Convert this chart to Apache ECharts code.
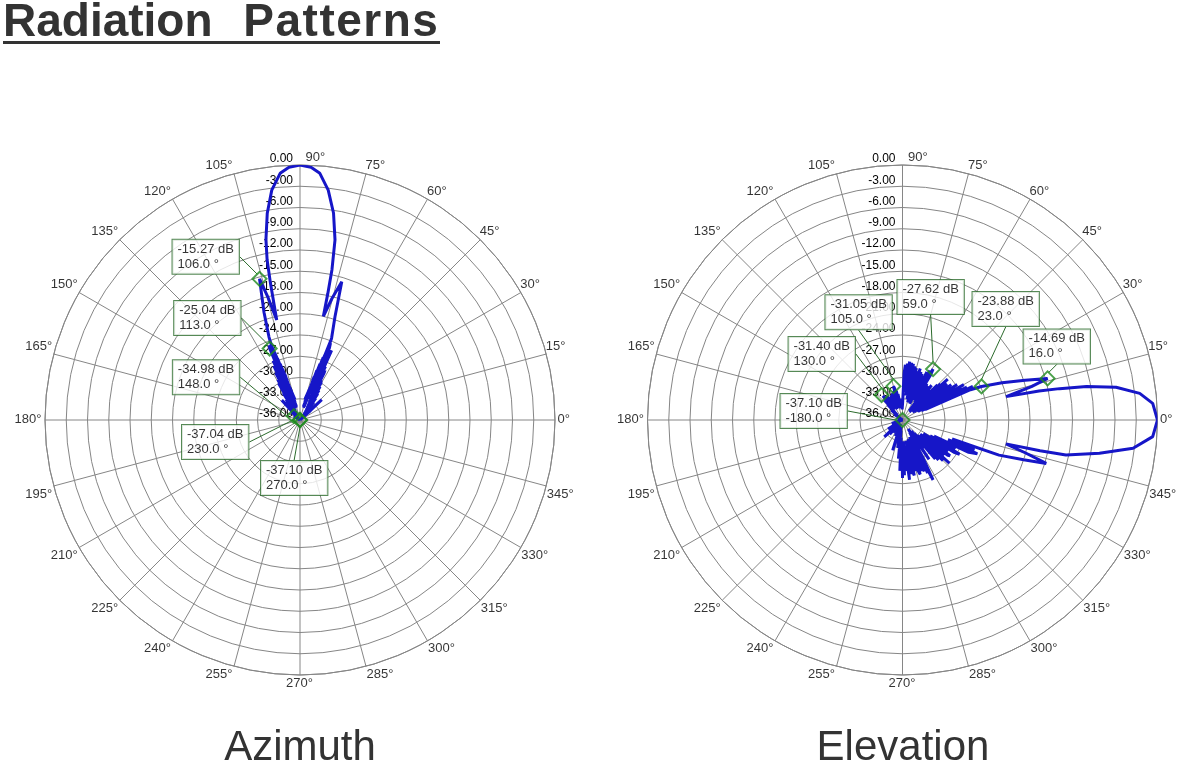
<!DOCTYPE html>
<html>
<head>
<meta charset="utf-8">
<script src="https://cdn.jsdelivr.net/npm/echarts@6/dist/echarts.min.js"></script>
<style>
html,body{margin:0;padding:0;background:#fff;}
#chart{position:absolute;left:0;top:0;width:1187px;height:763px;}
.cap{position:absolute;font-family:"Liberation Sans",Arial,sans-serif;color:#333;white-space:nowrap;}
#title{left:3px;top:0px;font-size:46px;line-height:41px;font-weight:bold;border-bottom:3px solid #333;padding-right:1px;}
#title .w2{letter-spacing:1.5px;margin-left:18px;}
.sub{top:725px;width:400px;text-align:center;font-size:42px;line-height:42px;}
</style>
</head>
<body>
<div id="chart"></div>
<div id="title" class="cap"><span>Radiation</span> <span class="w2">Patterns</span></div>
<div class="cap sub" style="left:100px;">Azimuth</div>
<div class="cap sub" style="left:703px;">Elevation</div>
<script>
// ---------- data (angle in degrees, level in dB), in trace order ----------
const chartNames = ['Azimuth', 'Elevation'];

const azAngles = [0, 20, 35, 40, 42, 43, 44, 46, 48, 50, 51, 52, 53, 54, 55, 56, 56.8, 57.5, 58.3, 59, 59.7, 60.4, 61, 61.6, 62.2, 62.8, 63.4, 64, 64.6, 65.1, 65.6, 66.1, 66.6, 67.2, 67.8, 68.4,
  76.8, 68.9, 76.0, 69.6, 75.2, 70.4, 74.4, 71.2, 73.6, 72.0, 72.8, 68.8,
  69, 71.3, 73.2, 75.3, 77.3, 77.6, 78.0, 79.0, 80.8, 83.0, 85.4, 87.5, 90, 92.5, 94.6, 97, 99, 100.7, 101.6, 102.2, 103.1, 104.6, 106, 108.5, 110.5, 111,
  104.0, 110.6, 104.6, 110.1, 105.3, 109.5, 106.0, 108.9, 106.8, 108.3, 107.5, 111.3,
  111.7, 112.3, 113, 113.7, 114.4, 115.1, 115.8, 116.5, 117.2, 118, 118.8, 119.6, 120.4, 121.2, 122, 123, 124, 125, 126.5, 128, 130, 132.5, 134, 136, 138, 142, 148, 152, 165, 180, 200, 230, 250, 270, 300, 330, 350];
const azDb     = [-37.2, -36.7, -36.3, -36.4, -34.0, -31.8, -35.5, -34.2, -35.6, -33.5, -35.5, -32.8, -35.4, -32.2, -35.0, -31.5, -34.6, -31.0, -34.3, -30.5, -34.0, -29.8, -33.6, -29.6, -33.2, -28.6, -28.1, -32.8, -27.6, -32.0, -25.2, -31.0, -26.5, -30.0, -25.0, -24.3,
  -33.0, -25.6, -34.0, -26.6, -33.4, -27.6, -34.2, -28.6, -33.6, -29.6, -34.0, -23.8,
  -23.5, -20.6, -15.6, -18.3, -21.0, -17.7, -14.3, -10.1, -6.4, -3.3, -1.06, -0.3, 0, -0.3, -1.06, -3.3, -6.45, -10.1, -12.9, -16.3, -21.5, -18.2, -15.27, -20.0, -23.5, -24.9,
  -33.0, -25.8, -34.0, -26.8, -33.4, -27.6, -34.2, -28.4, -33.6, -29.2, -34.0, -25.2,
  -34.0, -24.6, -25.04, -33.5, -26.8, -34.0, -27.5, -34.5, -28.5, -33.8, -29.5, -35.0, -30.0, -34.5, -31.5, -35.0, -32.5, -35.2, -33.5, -35.5, -33.8, -32.2, -35.2, -34.3, -36.5, -35.5, -34.98, -36.8, -37.3, -37.5, -36.9, -37.04, -37.3, -37.10, -37.4, -36.9, -37.0];

const elAngles = [0, 3.8, 6.4, 8.7, 10.3, 11.3, 12.0, 12.7, 14.5, 16, 18, 20.5, 23, 24, 24.8, 25.5, 26.3, 27, 27.8, 28.5, 29.3, 30, 30.8, 31.5, 32.3, 33, 33.8, 34.5, 35.3, 36, 36.8, 37.5, 38.3, 39, 39.8, 40.5, 41.3, 42, 42.8, 43.5, 44.3, 45, 46, 47, 48, 49, 50, 51, 52, 53, 54, 55, 56, 57, 58, 59, 60, 61, 62, 63, 64, 65, 66, 67, 68, 69, 70, 71, 72, 73, 74, 75, 76, 77, 78, 79, 80, 81, 82, 83, 84, 85, 86, 87, 88, 89.5, 92, 95, 98, 100, 101, 102, 103, 104, 105, 106, 107, 108, 109, 110, 111, 112, 113, 114, 115, 116, 117, 118, 119, 120, 121, 122, 123, 124, 125, 126, 127, 128, 129, 130, 131, 132, 133, 134, 136, 138, 141, 145, 152, 160, 170, 180, 190, 198, 205, 212, 215, 218, 221, 222.8, 225, 228, 231, 233, 237, 240, 244, 246, 249, 252, 254, 256, 258, 260, 262, 264, 265.5, 267, 268.5, 270, 271, 272, 273, 274, 275, 276.7, 277.7, 278.5, 279.5, 280.5, 281.3, 282, 283, 284, 285, 286, 287, 288, 289, 290, 291, 292, 293, 294.3, 295.4, 296.2, 297, 298.5, 300, 301, 302.5, 304, 305.5, 307, 308.5, 310, 311, 312, 313, 314, 315, 316.2, 317.3, 318.3, 319, 320, 321, 322, 323, 324, 325, 326, 327, 328, 329, 330, 331, 332, 333, 334, 335.7, 336.6, 337.3, 338, 339, 340, 341.8, 343.2, 345, 347, 347.4, 347.9, 350.4, 353, 356.2];
const elDb     = [0, -0.6, -2.3, -5.5, -9.6, -13.4, -16.3, -21.0, -17.2, -14.69, -17.8, -21.0, -23.88, -25.5, -32.5, -25.0, -33.0, -25.8, -32.0, -26.5, -33.5, -26.0, -32.8, -27.2, -33.6, -26.8, -32.5, -27.8, -34.0, -27.5, -33.0, -28.3, -34.2, -27.9, -33.5, -28.0, -32.8, -27.4, -34.0, -28.6, -33.2, -29.0, -28.8, -33.8, -30.2, -34.5, -29.6, -33.6, -30.5, -34.4, -30.0, -33.0, -29.8, -32.5, -28.6, -27.62, -31.5, -28.0, -32.8, -28.4, -31.0, -29.2, -33.5, -28.9, -32.0, -28.7, -33.0, -28.3, -31.5, -28.8, -33.4, -28.4, -31.8, -28.2, -33.0, -27.9, -31.2, -27.8, -32.5, -27.7, -31.0, -28.0, -32.0, -28.2, -29.4, -33.5, -34.5, -33.0, -34.0, -32.3, -34.3, -31.8, -33.8, -31.4, -31.05, -33.6, -31.7, -34.0, -32.0, -33.4, -31.9, -34.2, -32.4, -33.6, -32.1, -34.3, -32.6, -33.7, -32.3, -34.0, -32.5, -33.5, -32.0, -34.1, -32.6, -33.6, -31.9, -33.2, -31.6, -31.40, -33.5, -32.2, -34.3, -33.0, -35.0, -33.9, -35.4, -34.6, -36.4, -35.3, -36.8, -37.1, -35.8, -34.4, -35.6, -33.6, -35.2, -33.8, -34.9, -32.5, -34.6, -33.3, -35.1, -33.8, -35.0, -34.2, -35.4, -33.5, -34.8, -31.5, -34.5, -33.0, -35.0, -32.0, -34.5, -30.5, -33.5, -28.8, -33.0, -27.8, -32.5, -28.2, -33.0, -28.8, -32.0, -27.5, -32.4, -28.3, -28.6, -33.0, -28.4, -28.0, -32.2, -28.6, -29.0, -33.2, -28.5, -27.9, -32.8, -28.3, -28.9, -33.4, -28.1, -32.6, -27.7, -31.5, -26.5, -30.0, -34.0, -32.0, -34.5, -29.3, -33.8, -31.0, -34.0, -28.8, -33.5, -28.4, -30.5, -33.0, -27.9, -32.5, -27.0, -32.0, -28.3, -29.8, -32.8, -27.9, -27.6, -32.2, -28.2, -29.6, -32.5, -27.3, -26.6, -31.5, -27.5, -28.2, -31.0, -25.6, -24.4, -29.0, -25.0, -26.0, -28.5, -21.5, -18.0, -14.8, -18.0, -21.0, -16.1, -12.4, -7.8, -3.2, -0.6];

const azMarkAngles = [106, 113, 148, 230, 270];
const azMarkDb     = [-15.27, -25.04, -34.98, -37.04, -37.10];
const elMarkAngles = [16, 23, 59, 105, 130, -180];
const elMarkDb     = [-14.69, -23.88, -27.62, -31.05, -31.40, -37.10];

const dbMin = -36, dbMax = 0, dbStep = 3;
const angleTicks = [0, 15, 30, 45, 60, 75, 90, 105, 120, 135, 150, 165, 180, 195, 210, 225, 240, 255, 270, 285, 300, 315, 330, 345];

// ---------- layout (label box top-left offsets from the marker, px) ----------
const azLabelOffsets = [[-87, -39], [-95.5, -47.5], [-121, -56], [-118, 5], [-39, 41]];
const elLabelOffsets = [[-24, -49], [-9, -94.5], [-35.6, -89], [-68, -91], [-93, -58], [-122, -26]];

// ---------- helpers ----------
function axisAngle(t) { return ((t - 90) % 360 + 360) % 360; }
function patternData(angles, db) {
  const d = angles.map((a, i) => [Math.max(db[i], dbMin), axisAngle(a)]);
  d.push(d[0]);
  return d;
}
function markerData(angles, db) {
  return angles.map((a, i) => [Math.max(db[i], dbMin), axisAngle(a)]);
}

const gridColor = '#868686';
const font = '"Liberation Sans", Arial, sans-serif';

function angleAxis(idx) {
  return {
    polarIndex: idx, type: 'value', min: 0, max: 360, interval: 15,
    startAngle: 90, clockwise: false,
    axisLine: { show: true, lineStyle: { color: gridColor, width: 1 } },
    axisTick: { show: false },
    axisLabel: { show: false },
    splitLine: { show: true, lineStyle: { color: gridColor, width: 1 } }
  };
}
function radiusAxis(idx) {
  return {
    polarIndex: idx, type: 'value', min: dbMin, max: dbMax, interval: dbStep,
    axisLine: { show: false }, axisTick: { show: false },
    axisLabel: { fontSize: 12, color: '#000', fontFamily: font, margin: 7,
      verticalAlign: 'bottom', formatter: v => v.toFixed(2) },
    splitLine: { show: true, lineStyle: { color: gridColor, width: 1 } },
    z: 1
  };
}
function tickPlacement(a) {
  if (a === 0)   return { position: [3, 0],  align: 'left',   verticalAlign: 'middle' };
  if (a === 90)  return { position: [6, -1], align: 'left',   verticalAlign: 'bottom' };
  if (a === 180) return { position: [-3, 0], align: 'right',  verticalAlign: 'middle' };
  if (a === 270) return { position: [0, 2],  align: 'center', verticalAlign: 'top' };
  if (a < 90)    return { position: [0, -1], align: 'left',   verticalAlign: 'bottom' };
  if (a < 180)   return { position: [-1, -1], align: 'right', verticalAlign: 'bottom' };
  if (a < 270)   return { position: [-1, 2], align: 'right',  verticalAlign: 'top' };
  return { position: [1, 2], align: 'left', verticalAlign: 'top' };
}
function angleLabelSeries(idx) {
  return {
    type: 'scatter', coordinateSystem: 'polar', polarIndex: idx, clip: false, silent: true,
    symbol: 'circle', symbolSize: 1, itemStyle: { color: 'rgba(0,0,0,0)' },
    data: angleTicks.map(a => ({ value: [dbMax, axisAngle(a)], label: tickPlacement(a) })),
    label: { show: true, fontSize: 13, color: '#000', fontFamily: font,
      formatter: p => angleTicks[p.dataIndex] + '°' },
    emphasis: { disabled: true },
    z: 4
  };
}
function markerSeries(idx, angles, db, offsets) {
  return {
    type: 'scatter', coordinateSystem: 'polar', polarIndex: idx, clip: false,
    data: markerData(angles, db),
    symbol: 'diamond', symbolSize: 14,
    itemStyle: { color: 'rgba(0,0,0,0)', borderColor: '#1e8a1e', borderWidth: 2 },
    label: {
      show: true, position: 'inside', fontFamily: font, fontSize: 13, lineHeight: 15,
      color: '#000', backgroundColor: '#fff', borderColor: '#2c6b2c', borderWidth: 1,
      padding: [2, 5, 2, 5], align: 'left',
      formatter: p => db[p.dataIndex].toFixed(2) + ' dB\n' + angles[p.dataIndex].toFixed(1) + ' °'
    },
    labelLine: { show: true, lineStyle: { color: '#2c6b2c', width: 1 } },
    labelLayout: p => ({ dx: offsets[p.dataIndex][0], dy: offsets[p.dataIndex][1], align: 'left', verticalAlign: 'top' }),
    emphasis: { disabled: true },
    z: 5
  };
}
function patternSeries(idx, name, angles, db) {
  return {
    type: 'line', name: name, coordinateSystem: 'polar', polarIndex: idx,
    data: patternData(angles, db), showSymbol: false, smooth: false,
    lineStyle: { color: '#1616c8', width: 3 }, emphasis: { disabled: true }, z: 3
  };
}

const chart = echarts.init(document.getElementById('chart'), null, { renderer: 'canvas' });
chart.setOption({
  animation: false,
  backgroundColor: '#fff',
  polar: [{ center: [300, 420], radius: 255 }, { center: [902.5, 420], radius: 255 }],
  angleAxis: [angleAxis(0), angleAxis(1)],
  radiusAxis: [radiusAxis(0), radiusAxis(1)],
  series: [
    patternSeries(0, chartNames[0], azAngles, azDb),
    patternSeries(1, chartNames[1], elAngles, elDb),
    angleLabelSeries(0),
    angleLabelSeries(1),
    markerSeries(0, azMarkAngles, azMarkDb, azLabelOffsets),
    markerSeries(1, elMarkAngles, elMarkDb, elLabelOffsets)
  ]
});
</script>
</body>
</html>
